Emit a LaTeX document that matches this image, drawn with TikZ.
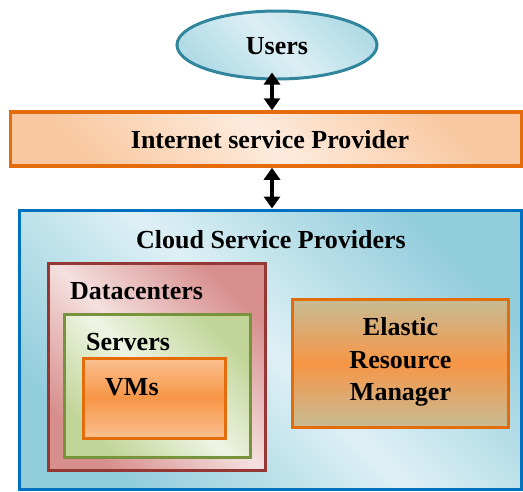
\documentclass[tikz,border=0pt]{standalone}
\usepackage{fontspec}
\setmainfont{Liberation Serif}
\usetikzlibrary{arrows.meta,shapes.geometric}

\definecolor{tealline}{HTML}{31859C}
\definecolor{userlight}{HTML}{DCEFF4}
\definecolor{userdark}{HTML}{B2DBE6}
\definecolor{orangeline}{HTML}{E46C0A}
\definecolor{isplight}{HTML}{FDEBDD}
\definecolor{ispdark}{HTML}{F9C8A0}
\definecolor{blueline}{HTML}{0070C0}
\definecolor{csplight}{HTML}{DEF0F5}
\definecolor{cspdark}{HTML}{92CDDC}
\definecolor{redline}{HTML}{953735}
\definecolor{dclight}{HTML}{F4E0DF}
\definecolor{dcdark}{HTML}{D78F8D}
\definecolor{greenline}{HTML}{77933C}
\definecolor{srvlight}{HTML}{EEF4E3}
\definecolor{srvdark}{HTML}{C1D598}
\definecolor{vmlight}{HTML}{FAC090}
\definecolor{vmmid}{HTML}{F79646}
\definecolor{tan}{HTML}{C6BC95}

\tikzset{
  txt/.style={font=\fontsize{26}{32.5}\selectfont\bfseries, inner sep=0pt},
  box/.style={rectangle, line width=3pt, inner sep=0pt},
  diag/.style 2 args={top color=#1, bottom color=#1, middle color=#2, shading angle=-45},
  band/.style 2 args={top color=#1, bottom color=#1, middle color=#2},
  dblarrow/.style={line width=3.2pt, {Triangle[width=16pt,length=12pt]}-{Triangle[width=16pt,length=12pt]}},
}

\begin{document}
\begin{tikzpicture}[x=1pt, y=-1pt]
\useasboundingbox (0,0) rectangle (523,491);

% users
\node[ellipse, draw=tealline, line width=3pt, diag={userdark}{userlight},
      minimum width=200pt, minimum height=68pt, inner sep=0pt] (users) at (277,45) {};
\node[txt] (userstxt) at (277,46) {Users};

% internet service provider
\node[box, draw=orangeline, line width=3.5pt, diag={ispdark}{isplight},
      minimum width=511pt, minimum height=54pt] (isp) at (266,139) {};
\node[txt] (isptxt) at (270,140) {Internet service Provider};

% cloud service providers
\node[box, draw=blueline, diag={cspdark}{csplight},
      minimum width=502pt, minimum height=279pt] (csp) at (270.5,349.5) {};
\node[txt] (csptxt) at (271,240) {Cloud Service Providers};

% datacenters
\node[box, draw=redline, diag={dcdark}{dclight},
      minimum width=217pt, minimum height=207pt] (dc) at (157,366.7) {};
\node[txt, anchor=west] (dctxt) at (70,291) {Datacenters};

% servers
\node[box, draw=greenline, diag={srvdark}{srvlight},
      minimum width=186pt, minimum height=143pt] (srv) at (157.8,385.5) {};
\node[txt, anchor=west] (srvtxt) at (86,342) {Servers};

% virtual machines
\node[box, draw=orangeline, band={vmlight}{vmmid},
      minimum width=142pt, minimum height=80pt] (vm) at (154.2,398) {};
\node[txt, anchor=west] (vmtxt) at (105,387) {VMs};

% elastic resource manager
\node[box, draw=orangeline, band={tan}{vmmid},
      minimum width=216pt, minimum height=128pt] (erm) at (400.3,363.5) {};
\node[txt, align=center] (ermtxt) at (400.5,362) {Elastic\\Resource\\Manager};

% connectors
\coordinate (ax) at (272,0);
\draw[dblarrow] (users.south -| ax) ++(0,-8) -- (isp.north -| ax);
\draw[dblarrow] (isp.south -| ax) -- (csp.north -| ax);
\end{tikzpicture}
\end{document}
